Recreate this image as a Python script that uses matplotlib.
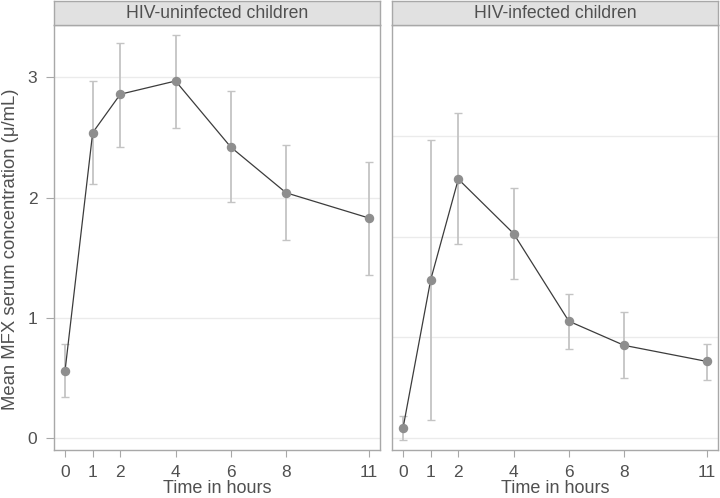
import numpy as np
import matplotlib.pyplot as plt

plt.rcParams['font.family'] = ['Liberation Sans', 'DejaVu Sans']

hours = [0, 1, 2, 4, 6, 8, 11]
panels = ["HIV-uninfected children", "HIV-infected children"]

# HIV-uninfected: mean and CI bounds
uninf_mean = [0.56, 2.54, 2.86, 2.97, 2.42, 2.04, 1.83]
uninf_lo = [0.34, 2.11, 2.42, 2.58, 1.96, 1.65, 1.36]
uninf_hi = [0.78, 2.97, 3.29, 3.35, 2.89, 2.44, 2.30]

# HIV-infected: panel has its own (unlabelled) scale
inf_mean = [0.10, 1.57, 2.57, 2.03, 1.16, 0.92, 0.76]
inf_lo = [-0.02, 0.18, 1.93, 1.58, 0.88, 0.60, 0.58]
inf_hi = [0.22, 2.96, 3.23, 2.48, 1.43, 1.25, 0.93]

grid_vals = [0, 1, 2, 3]

txt = '#505050'
frame = '#a8a8a8'

fig = plt.figure(figsize=(7.2, 4.98), dpi=100)

lefts = [54 / 720, 392 / 720]
w = 326 / 720
bot = 48 / 498
h = 425 / 498
strip_h = 24 / 498

data = [(uninf_mean, uninf_lo, uninf_hi, (-0.1, 3.436)),
        (inf_mean, inf_lo, inf_hi, (-0.119, 4.10))]

for i, (m, lo, hi, ylim) in enumerate(data):
    ax = fig.add_axes([lefts[i], bot, w, h])
    m = np.array(m)
    err = [m - np.array(lo), np.array(hi) - m]
    for g in grid_vals:
        ax.axhline(g, color='#ebebeb', lw=1.0, zorder=0)
    ax.errorbar(hours, m, yerr=err, fmt='none', ecolor='#c4c4c4',
                elinewidth=1.3, capsize=3, capthick=1.0, zorder=1)
    ax.plot(hours, m, '-', color='#3c3c3c', lw=0.9, zorder=2)
    ax.plot(hours, m, 'o', color='#8e8e8e', ms=5.8, zorder=3)
    ax.set_xlim(-0.4, 11.4)
    ax.set_ylim(*ylim)
    ax.set_xticks(hours)
    ax.set_xlabel("Time in hours", fontsize=13, color=txt, labelpad=-0.5)
    for s in ax.spines.values():
        s.set_color(frame)
        s.set_linewidth(1.0)
    ax.tick_params(axis='x', colors=frame, labelcolor=txt, labelsize=12.5,
                   length=5, width=0.8, pad=6)
    if i == 0:
        ax.set_yticks(grid_vals)
        ax.tick_params(axis='y', colors=frame, labelcolor=txt, labelsize=12.5,
                       length=6, width=0.8, pad=6)
        ax.set_ylabel("Mean MFX serum concentration (\u03bc/mL)",
                      fontsize=13.3, color=txt)
        ax.yaxis.set_label_coords(-0.106, 0.473)
    else:
        ax.set_yticks([])

    sax = fig.add_axes([lefts[i], bot + h, w, strip_h])
    sax.set_facecolor('#e1e1e1')
    sax.set_xticks([])
    sax.set_yticks([])
    for s in sax.spines.values():
        s.set_color(frame)
        s.set_linewidth(1.0)
    sax.text(0.5, 0.48, panels[i], ha='center', va='center',
             fontsize=12.7, color=txt, transform=sax.transAxes)

fig.savefig('out.png', dpi=100)
